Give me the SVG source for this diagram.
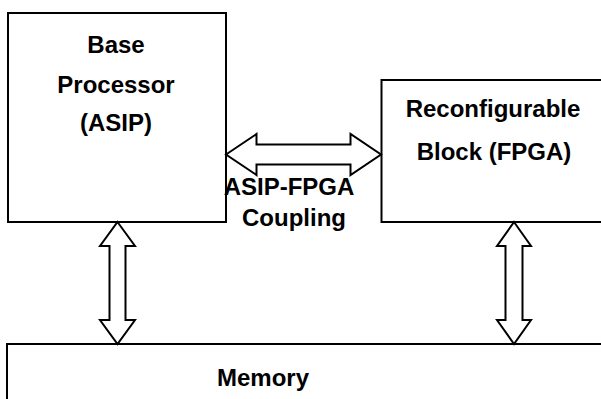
<svg xmlns="http://www.w3.org/2000/svg" width="601" height="399" viewBox="0 0 601 399">
<style>
.box{fill:#fff;stroke:#000;stroke-width:2}
.arr{fill:#fff;stroke:#000;stroke-width:2;stroke-linejoin:miter}
.t{font-family:"Liberation Sans",Arial,sans-serif;font-weight:bold;font-size:24px;fill:#000;text-anchor:middle}
</style>
<rect width="601" height="399" fill="#fff"/>
<g id="base-processor">
<rect class="box" x="8" y="13" width="218" height="209"/>
<text class="t" x="116" y="53">Base</text>
<text class="t" x="116" y="93">Processor</text>
<text class="t" x="116" y="131">(ASIP)</text>
</g>
<g id="reconfigurable-block">
<rect class="box" x="381.5" y="80" width="240" height="142"/>
<text class="t" x="493" y="117">Reconfigurable</text>
<text class="t" x="494" y="160">Block (FPGA)</text>
</g>
<g id="memory">
<rect class="box" x="7" y="344" width="620" height="70"/>
<text class="t" x="263" y="386">Memory</text>
</g>
<g id="connectors">
<polygon class="arr" points="226,154.5 256.5,134 256.5,144.5 350.5,144.5 350.5,134 381,154.5 350.5,175 350.5,164.5 256.5,164.5 256.5,175"/>
<polygon class="arr" points="117.5,222 135,246 125.5,246 125.5,320 135,320 117.5,344 100,320 109.5,320 109.5,246 100,246"/>
<polygon class="arr" points="514,222 531,246 522.5,246 522.5,320 531,320 514,344 497,320 505.5,320 505.5,246 497,246"/>
</g>
<g id="coupling-label">
<text class="t" x="289" y="195">ASIP-FPGA</text>
<text class="t" x="294" y="226">Coupling</text>
</g>
</svg>
